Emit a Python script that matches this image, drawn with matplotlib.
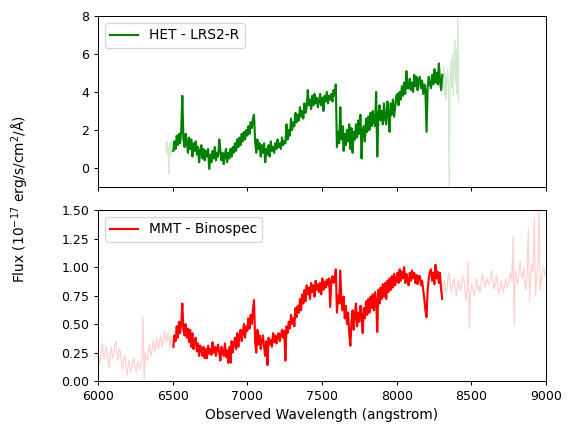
import numpy as np
import matplotlib
matplotlib.use("Agg")
import matplotlib.pyplot as plt

# --- HET LRS2-R (flux in 1e-17 erg/s/cm2/A) ---
het_faint_lo = [1.2, 0.8, 1.4, 0.7, 1.1, -0.3, 0.9, 1.3, 0.6, 1.0, 1.4, 0.8, 1.2, 0.9]
het_main = [0.9, 1.4, 1.0, 1.7, 1.2, 1.8, 1.3, 1.9, 3.8, 1.5,
            1.1, 1.8, 1.4, 0.8, 1.6, 1.0, 1.5, 0.6, 1.3, 0.9,
            1.4, 0.7, 1.1, 0.3, 0.9, 1.2, 0.5, 1.0, 0.4, 0.9,
            0.6, 1.0, -0.05, 0.7, 0.3, 0.9, 0.5, 1.1, 0.4, 0.8,
            0.6, 1.5, 0.9, 0.4, 0.8, 0.2, 0.7, 1.0, 0.3, 0.8,
            0.5, 1.0, 0.6, 1.1, 0.8, 1.3, 0.9, 1.5, 1.1, 1.6,
            1.2, 1.8, 1.4, 1.9, 1.5, 2.0, 1.7, 2.2, 1.8, 2.4,
            2.1, 2.6, 2.8, 1.4, 0.8, 1.5, 1.0, 1.3, 0.6, 1.2,
            0.8, 1.3, 0.3, 1.0, 0.7, 1.2, 0.6, 1.4, 0.9, 1.1,
            0.8, 1.3, 1.0, 1.5, 1.1, 1.3, 1.0, 1.6, 1.2, 1.4,
            1.3, 2.3, 1.5, 2.0, 1.7, 2.6, 2.0, 2.4, 2.2, 2.9,
            2.4, 2.8, 2.5, 3.2, 2.7, 3.0, 2.6, 3.4, 2.9, 3.2,
            4.1, 3.3, 3.6, 3.1, 3.8, 3.3, 3.9, 3.4, 3.7, 3.2,
            3.5, 3.9, 3.3, 3.7, 3.0, 3.8, 3.5, 4.0, 3.4, 3.8,
            3.6, 3.9, 3.5, 4.1, 3.8, 4.4, 1.1, 1.9, 1.3, 3.2,
            1.5, 2.2, 0.9, 1.8, 1.2, 2.0, 1.4, 2.3, 1.0, 2.1,
            0.8, 1.9, 1.5, 2.3, 1.6, 2.5, 1.8, 2.8, 0.5, 2.0,
            2.2, 1.4, 2.6, 1.9, 2.7, 2.0, 2.9, 2.2, 3.0, 2.4,
            2.2, 4.0, 0.6, 2.8, 3.3, 2.5, 3.0, 2.3, 3.4, 2.6,
            2.3, 3.5, 2.9, 1.9, 3.4, 2.8, 3.6, 2.7, 3.2, 3.8,
            3.9, 3.3, 4.0, 3.6, 4.3, 3.8, 4.5, 3.9, 5.1, 4.2,
            4.2, 4.7, 4.1, 4.5, 4.0, 4.9, 4.3, 4.8, 4.1, 4.6,
            4.8, 4.2, 4.6, 3.9, 4.4, 4.1, 1.9, 4.3, 4.8, 4.4,
            4.2, 4.9, 4.4, 5.2, 4.5, 5.0, 4.4, 5.5, 4.6, 4.1,
            4.9]
het_faint_hi = [4.9, 4.2, 5.3, 3.8, 5.0, 3.6, 4.6, 5.2, 4.0, -1.5,
                4.4, 5.6, 4.2, 6.0, 3.8, 5.4, 6.7, 4.5, 6.2, 3.9,
                8.5, 3.5]

# --- MMT Binospec ---
mmt_faint_lo = [0.30, 0.20, 0.15, 0.28, 0.33, 0.22, 0.20, 0.30, 0.28, 0.18,
                0.12, 0.25, 0.30, 0.20, 0.22, 0.32, 0.35, 0.24, 0.18, 0.28,
                0.26, 0.15, 0.10, 0.20, 0.22, 0.12, 0.05, 0.15, 0.18, 0.08,
                0.10, 0.18, 0.20, 0.12, 0.08, 0.15, 0.17, 0.10, 0.12, 0.20,
                0.56, 0.01, 0.25, 0.20, 0.18, 0.28, 0.32, 0.22, 0.26, 0.36,
                0.30, 0.25, 0.38, 0.32, 0.28, 0.36, 0.40, 0.30, 0.34, 0.44,
                0.38, 0.34, 0.42, 0.36, 0.30, 0.40, 0.34, 0.30]
mmt_main = [0.30, 0.40, 0.35, 0.48, 0.38, 0.52, 0.42, 0.50, 0.68, 0.45,
            0.40, 0.50, 0.38, 0.46, 0.34, 0.45, 0.30, 0.42, 0.28, 0.36,
            0.38, 0.26, 0.33, 0.22, 0.31, 0.27, 0.22, 0.30, 0.20, 0.28,
            0.20, 0.31, 0.24, 0.28, 0.23, 0.34, 0.25, 0.30, 0.22, 0.29,
            0.32, 0.24, 0.18, 0.30, 0.25, 0.22, 0.33, 0.21, 0.27, 0.16,
            0.30, 0.16, 0.35, 0.25, 0.32, 0.38, 0.28, 0.42, 0.30, 0.40,
            0.45, 0.35, 0.42, 0.50, 0.38, 0.48, 0.44, 0.55, 0.46, 0.58,
            0.50, 0.62, 0.71, 0.35, 0.25, 0.45, 0.32, 0.40, 0.28, 0.36,
            0.40, 0.30, 0.22, 0.35, 0.14, 0.38, 0.32, 0.36, 0.30, 0.42,
            0.34, 0.40, 0.33, 0.38, 0.42, 0.35, 0.40, 0.45, 0.38, 0.44,
            0.18, 0.48, 0.42, 0.52, 0.46, 0.58, 0.50, 0.55, 0.48, 0.64,
            0.56, 0.66, 0.60, 0.72, 0.62, 0.76, 0.68, 0.80, 0.70, 0.84,
            0.76, 0.82, 0.72, 0.86, 0.78, 0.84, 0.74, 0.88, 0.80, 0.85,
            0.78, 0.86, 0.76, 0.90, 0.80, 0.87, 0.82, 0.89, 0.84, 0.90,
            0.65, 0.88, 0.92, 0.86, 0.90, 0.98, 0.60, 0.75, 0.68, 0.97,
            0.70, 0.62, 0.74, 0.55, 0.66, 0.50, 0.60, 0.42, 0.31, 0.52,
            0.62, 0.45, 0.58, 0.68, 0.48, 0.60, 0.52, 0.66, 0.58, 0.42,
            0.64, 0.55, 0.70, 0.58, 0.72, 0.60, 0.74, 0.64, 0.76, 0.62,
            0.78, 0.70, 0.43, 0.80, 0.68, 0.82, 0.72, 0.85, 0.74, 0.86,
            0.72, 0.88, 0.78, 0.90, 0.80, 0.92, 0.82, 0.94, 0.84, 0.90,
            0.95, 0.86, 0.98, 0.88, 0.96, 0.90, 1.00, 0.86, 0.94, 0.88,
            0.84, 0.95, 0.88, 0.97, 0.90, 0.95, 0.86, 0.93, 0.85, 0.92,
            0.92, 0.84, 0.88, 0.80, 0.72, 0.62, 0.56, 0.80, 0.90, 0.96,
            0.98, 0.88, 0.95, 0.85, 1.02, 0.90, 0.96, 0.86, 0.95, 0.80,
            0.72]
mmt_faint_hi = [0.72, 0.85, 0.88, 0.78, 0.80, 0.92, 0.95, 0.82, 0.78, 0.86,
                0.90, 0.80, 0.75, 0.84, 0.88, 0.80, 0.82, 0.90, 0.92, 0.84,
                0.70, 0.80, 1.05, 0.46, 0.78, 0.85, 0.80, 0.75, 0.82, 0.90,
                0.80, 0.84, 0.78, 0.86, 0.94, 0.88, 0.82, 0.85, 0.90, 0.86,
                0.85, 0.92, 0.97, 0.88, 0.80, 0.86, 0.93, 0.84, 0.76, 0.82,
                0.88, 0.80, 0.78, 0.86, 0.90, 0.82, 0.84, 0.90, 0.95, 0.88,
                1.26, 0.49, 0.98, 0.90, 0.85, 0.95, 1.05, 0.92, 0.90, 1.00,
                0.86, 0.80, 0.95, 1.33, 0.70, 0.92, 1.02, 0.96, 1.43, 0.75,
                0.90, 1.00, 1.55, 0.80, 0.88, 0.95, 1.00, 0.92, 0.98]

wl_main = np.linspace(6505, 8305, len(het_main))
wl_het_lo = np.linspace(6455, 6505, len(het_faint_lo))
wl_het_hi = np.linspace(8305, 8415, len(het_faint_hi))
wl_mmt_lo = np.linspace(6000, 6505, len(mmt_faint_lo))
wl_mmt_hi = np.linspace(8305, 9000, len(mmt_faint_hi))

fig, (ax1, ax2) = plt.subplots(2, 1, figsize=(6.4, 4.8), dpi=90, sharex=True)
fig.subplots_adjust(left=0.17, right=0.948, top=0.963, bottom=0.118, hspace=0.135)

ax1.plot(wl_het_lo, het_faint_lo, color="green", alpha=0.18, lw=1)
ax1.plot(wl_het_hi, het_faint_hi, color="green", alpha=0.18, lw=1)
ax1.plot(wl_main, het_main, color="green", lw=1.7, label="HET - LRS2-R")
ax1.set_ylim(-1, 8)
ax1.set_yticks([0, 2, 4, 6, 8])
ax1.legend(loc="upper left", fontsize=11)

ax2.plot(wl_mmt_lo, mmt_faint_lo, color="red", alpha=0.18, lw=1)
ax2.plot(wl_mmt_hi, mmt_faint_hi, color="red", alpha=0.18, lw=1)
ax2.plot(wl_main, mmt_main, color="red", lw=1.7, label="MMT - Binospec")
ax2.set_ylim(0, 1.5)
ax2.set_xlim(6000, 9000)
ax2.legend(loc="upper left", fontsize=11)
ax2.set_xlabel("Observed Wavelength (angstrom)", fontsize=11)

fig.text(0.035, 0.54, "Flux (10$^{-17}$ erg/s/cm$^2$/Å)", rotation=90,
         va="center", ha="center", fontsize=11)

plt.savefig("out.png")
